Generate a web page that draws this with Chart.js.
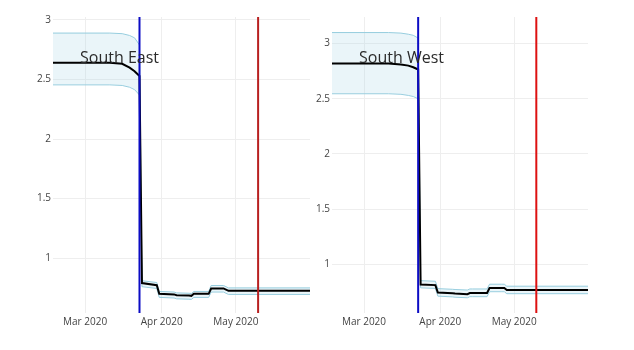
<!DOCTYPE html>
<html>
<head>
<meta charset="utf-8">
<script src="https://cdn.jsdelivr.net/npm/chart.js@4.4.1/dist/chart.umd.min.js"></script>
<style>
  body { margin: 0; background: #fff; }
  canvas { position: absolute; left: 0; top: 0; }
</style>
</head>
<body>
<canvas id="seChart" width="634" height="350"></canvas>
<canvas id="swChart" width="634" height="350"></canvas>
<script>
// daily R estimates, only the days where the curves change shape
var dates = ["2020-02-17", "2020-03-11", "2020-03-16", "2020-03-19", "2020-03-21",
  "2020-03-23", "2020-03-24", "2020-03-30", "2020-03-31", "2020-04-06", "2020-04-07",
  "2020-04-12", "2020-04-13", "2020-04-14", "2020-04-20", "2020-04-21", "2020-04-26",
  "2020-04-27", "2020-04-28", "2020-05-31"];

var seMean  = [2.64, 2.64, 2.632, 2.60, 2.57, 2.53, 0.79, 0.772, 0.70, 0.695, 0.688,
  0.685, 0.683, 0.70, 0.70, 0.745, 0.745, 0.735, 0.725, 0.725];
var seUpper = [2.89, 2.89, 2.885, 2.87, 2.85, 2.79, 0.81, 0.795, 0.72, 0.715, 0.708,
  0.705, 0.703, 0.72, 0.72, 0.77, 0.77, 0.76, 0.75, 0.75];
var seLower = [2.455, 2.455, 2.45, 2.435, 2.415, 2.37, 0.76, 0.745, 0.67, 0.665, 0.658,
  0.655, 0.653, 0.67, 0.67, 0.715, 0.715, 0.705, 0.695, 0.695];

var swMean  = [2.82, 2.82, 2.81, 2.80, 2.785, 2.765, 0.815, 0.81, 0.742, 0.735, 0.733,
  0.727, 0.738, 0.738, 0.738, 0.783, 0.783, 0.783, 0.765, 0.765];
var swUpper = [3.10, 3.10, 3.095, 3.085, 3.075, 3.05, 0.85, 0.845, 0.778, 0.772, 0.77,
  0.765, 0.775, 0.775, 0.775, 0.818, 0.818, 0.818, 0.80, 0.80];
var swLower = [2.545, 2.545, 2.54, 2.53, 2.52, 2.50, 0.785, 0.78, 0.71, 0.703, 0.70,
  0.695, 0.705, 0.705, 0.705, 0.75, 0.75, 0.75, 0.732, 0.732];

var lockdownDate = "2020-03-23";
var easingDate = "2020-05-10";

var xTickDates = ["2020-03-01", "2020-04-01", "2020-05-01"];
var xTickLabels = ["Mar 2020", "Apr 2020", "May 2020"];
var yTicks = [1, 1.5, 2, 2.5, 3];

function dayNum(s) {
  return (Date.parse(s) - Date.parse("2020-02-01")) / 86400000;
}

function points(values) {
  return values.map(function (v, i) { return { x: dayNum(dates[i]), y: v }; });
}

var panelName = {
  id: "panelName",
  afterDraw: function (chart, args, opts) {
    var ctx = chart.ctx, a = chart.chartArea;
    ctx.save();
    ctx.font = "16px 'Open Sans'";
    ctx.fillStyle = "#2b2b2b";
    ctx.textAlign = "left";
    ctx.textBaseline = "alphabetic";
    ctx.fillText(opts.text, a.left + 27, a.top + 46);
    ctx.restore();
  }
};

function makeChart(id, name, mean, upper, lower, yMin, yMax, padLeft, padRight, redColor) {
  var vline = function (d, color) {
    return {
      data: [{ x: dayNum(d), y: yMin }, { x: dayNum(d), y: yMax }],
      borderColor: color, borderWidth: 2, pointRadius: 0, fill: false, order: 0
    };
  };
  new Chart(document.getElementById(id), {
    type: "line",
    data: {
      datasets: [
        { data: points(upper), borderColor: "rgba(150,205,222,1)", borderWidth: 1,
          backgroundColor: "rgba(173,216,230,0.25)", fill: "+1", pointRadius: 0, order: 2 },
        { data: points(lower), borderColor: "rgba(150,205,222,1)", borderWidth: 1,
          fill: false, pointRadius: 0, order: 2 },
        { data: points(mean), borderColor: "#000", borderWidth: 2,
          fill: false, pointRadius: 0, order: 1 },
        vline(lockdownDate, "#0c0cc4"),
        vline(easingDate, redColor)
      ]
    },
    options: {
      responsive: false,
      animation: false,
      layout: { padding: { left: padLeft, right: padRight, top: 17, bottom: 17 } },
      plugins: {
        legend: { display: false },
        tooltip: { enabled: false },
        panelName: { text: name }
      },
      scales: {
        x: {
          type: "linear",
          min: dayNum("2020-02-17"),
          max: dayNum("2020-05-31"),
          border: { display: false },
          grid: { color: "#eeeeee", drawTicks: false },
          afterBuildTicks: function (s) {
            s.ticks = xTickDates.map(function (d) { return { value: dayNum(d) }; });
          },
          afterFit: function (s) { s.height = 20; },
          ticks: {
            padding: 3,
            maxRotation: 0,
            color: "#444",
            font: { family: "'Open Sans'", size: 10 },
            callback: function (v) {
              var i = xTickDates.map(dayNum).indexOf(v);
              return i >= 0 ? xTickLabels[i] : "";
            }
          }
        },
        y: {
          min: yMin,
          max: yMax,
          border: { display: false },
          grid: { color: "#eeeeee", drawTicks: false },
          afterBuildTicks: function (s) {
            s.ticks = yTicks.map(function (v) { return { value: v }; });
          },
          afterFit: function (s) { s.width = 40; },
          ticks: {
            padding: 2,
            color: "#444",
            font: { family: "'Open Sans'", size: 10 },
            callback: function (v) { return String(v); }
          }
        }
      }
    },
    plugins: [panelName]
  });
}

makeChart("seChart", "South East", seMean, seUpper, seLower, 0.539, 3.025, 13, 324, "#b82020");
makeChart("swChart", "South West", swMean, swUpper, swLower, 0.557, 3.241, 292, 46, "#dd1111");
</script>
</body>
</html>
